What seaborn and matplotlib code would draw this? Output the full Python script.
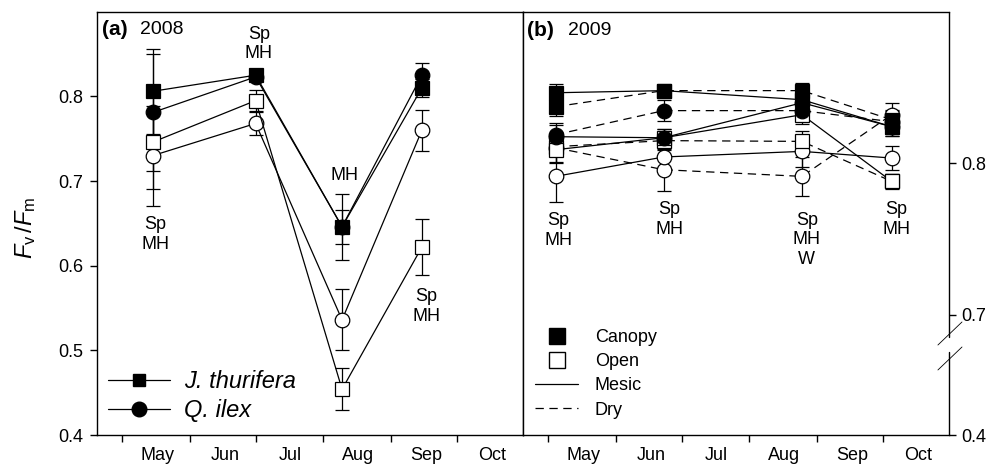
import numpy as np
import matplotlib
matplotlib.use("Agg")
import matplotlib.pyplot as plt
import seaborn as sns
from matplotlib.lines import Line2D
from matplotlib.ticker import FixedLocator, FixedFormatter, NullFormatter

sns.set_theme(style="ticks")
plt.rcParams["font.family"] = ["Liberation Sans", "DejaVu Sans"]
plt.rcParams["mathtext.fontset"] = "custom"
plt.rcParams["mathtext.rm"] = "Liberation Sans"
plt.rcParams["mathtext.it"] = "Liberation Sans:italic"
plt.rcParams["mathtext.bf"] = "Liberation Sans:bold"
plt.rcParams["lines.scale_dashes"] = False
plt.rcParams["axes.edgecolor"] = "black"
plt.rcParams["axes.linewidth"] = 1.0
plt.rcParams["xtick.color"] = "black"
plt.rcParams["ytick.color"] = "black"
plt.rcParams["text.color"] = "black"

# ---------------- data ----------------
# measurement dates (day of year)
days_2008 = [135, 182, 221.5, 258]
days_2009 = [124.4, 173.8, 237, 278]

# month axis
month_starts = [121, 152, 182, 213, 244, 274]
month_labels = ["May", "Jun", "Jul", "Aug", "Sep", "Oct"]

# panel (a) 2008 : Fv/Fm means and errors
jt_canopy_08 = [0.806, 0.825, 0.646, 0.810]
jt_canopy_08_err = [0.050, 0.004, 0.039, 0.011]
qi_canopy_08 = [0.781, 0.823, 0.646, 0.825]
qi_canopy_08_err = [0.069, 0.004, 0.020, 0.014]
jt_open_08 = [0.746, 0.795, 0.454, 0.622]
jt_open_08_err = [0.056, 0.012, 0.025, 0.033]
qi_open_08 = [0.730, 0.768, 0.536, 0.760]
qi_open_08_err = [0.059, 0.014, 0.036, 0.024]

# panel (b) 2009 : species x habitat (canopy/open) x site (mesic/dry)
jt_can_mes_09 = [0.8465, 0.8479, 0.8419, 0.8241]
jt_can_mes_09_err = [0.006, 0.004, 0.006, 0.006]
jt_can_dry_09 = [0.8373, 0.8479, 0.8479, 0.8287]
jt_can_dry_09_err = [0.006, 0.004, 0.005, 0.006]
qi_can_mes_09 = [0.8175, 0.8168, 0.8399, 0.8241]
qi_can_mes_09_err = [0.008, 0.006, 0.006, 0.006]
qi_can_dry_09 = [0.8188, 0.8347, 0.8347, 0.8274]
qi_can_dry_09_err = [0.008, 0.007, 0.006, 0.008]
jt_open_mes_09 = [0.8089, 0.8168, 0.8320, 0.7880]
jt_open_mes_09_err = [0.008, 0.006, 0.006, 0.005]
jt_open_dry_09 = [0.8109, 0.8149, 0.8144, 0.7880]
jt_open_dry_09_err = [0.006, 0.006, 0.007, 0.004]
qi_open_mes_09 = [0.7913, 0.8041, 0.8078, 0.8034]
qi_open_mes_09_err = [0.017, 0.010, 0.010, 0.008]
qi_open_dry_09 = [0.8102, 0.7957, 0.7913, 0.8320]
qi_open_dry_09_err = [0.010, 0.014, 0.013, 0.008]

# significance annotations
annot_08_x = [136.2, 183.5, 222.6, 260]
annot_08_y = [0.637, 0.862, 0.707, 0.552]
annot_08_txt = ["Sp\nMH", "Sp\nMH", "MH", "Sp\nMH"]
annot_09_x = [125.6, 176.4, 239.2, 280.1]
annot_09_y = [0.7554, 0.7627, 0.7495, 0.7627]
annot_09_txt = ["Sp\nMH", "Sp\nMH", "Sp\nMH\nW", "Sp\nMH"]

# ---------------- figure ----------------
W, H = 1003, 468
fig = plt.figure(figsize=(W / 100, H / 100), dpi=100)
ax1 = fig.add_axes([97 / W, 33 / H, 426 / W, 423.3 / H])
ax2 = fig.add_axes([523 / W, 33 / H, 426 / W, 423.3 / H])

# broken y scale for panel (b)
K = 0.2647
def fwd(y):
    y = np.asarray(y, dtype=float)
    return np.where(y >= 0.7, y, 0.7 - (0.7 - y) * K)
def inv(f):
    f = np.asarray(f, dtype=float)
    return np.where(f >= 0.7, f, 0.7 - (0.7 - f) / K)
ax2.set_yscale("function", functions=(fwd, inv))

LW = 0.9
def draw(ax, x, y, err, marker, filled, ls, ms=9.5):
    ax.errorbar(x, y, yerr=err, fmt="none", ecolor="black", elinewidth=LW,
                capsize=5, capthick=LW, zorder=2)
    sns.lineplot(x=x, y=y, ax=ax, color="black", lw=LW, linestyle=ls,
                 marker=marker, markersize=ms,
                 markerfacecolor="black" if filled else "white",
                 markeredgecolor="black", markeredgewidth=LW,
                 zorder=3, legend=False, errorbar=None)

SOLID = "-"
DASH = (0, (6, 4))

# panel a
draw(ax1, days_2008, qi_open_08, qi_open_08_err, "o", False, SOLID, 10.5)
draw(ax1, days_2008, jt_open_08, jt_open_08_err, "s", False, SOLID)
draw(ax1, days_2008, qi_canopy_08, qi_canopy_08_err, "o", True, SOLID, 10.5)
draw(ax1, days_2008, jt_canopy_08, jt_canopy_08_err, "s", True, SOLID)

# panel b
draw(ax2, days_2009, qi_open_dry_09, qi_open_dry_09_err, "o", False, DASH, 10.5)
draw(ax2, days_2009, qi_open_mes_09, qi_open_mes_09_err, "o", False, SOLID, 10.5)
draw(ax2, days_2009, jt_open_dry_09, jt_open_dry_09_err, "s", False, DASH)
draw(ax2, days_2009, jt_open_mes_09, jt_open_mes_09_err, "s", False, SOLID)
draw(ax2, days_2009, qi_can_dry_09, qi_can_dry_09_err, "o", True, DASH, 10.5)
draw(ax2, days_2009, qi_can_mes_09, qi_can_mes_09_err, "o", True, SOLID, 10.5)
draw(ax2, days_2009, jt_can_dry_09, jt_can_dry_09_err, "s", True, DASH)
draw(ax2, days_2009, jt_can_mes_09, jt_can_mes_09_err, "s", True, SOLID)

for ax in (ax1, ax2):
    ax.set_xlim(109.5, 304.2)
    ax.set_ylim(0.4, 0.9)
    ax.set_xlabel("")
    ax.set_ylabel("")
    ax.xaxis.set_major_locator(FixedLocator(month_starts))
    ax.xaxis.set_major_formatter(NullFormatter())
    ax.xaxis.set_minor_locator(FixedLocator([d + 16 for d in month_starts]))
    ax.xaxis.set_minor_formatter(FixedFormatter(month_labels))
    ax.tick_params(axis="x", which="major", direction="out", length=5, width=1)
    ax.tick_params(axis="x", which="minor", length=0, pad=9, labelsize=13)
    for s in ax.spines.values():
        s.set_visible(True)
        s.set_linewidth(1.0)
        s.set_color("black")

# y axis panel a
ax1.yaxis.set_major_locator(FixedLocator([0.4, 0.5, 0.6, 0.7, 0.8]))
ax1.yaxis.set_major_formatter(FixedFormatter(["0.4", "0.5", "0.6", "0.7", "0.8"]))
ax1.yaxis.set_minor_locator(FixedLocator([]))
ax1.tick_params(axis="y", direction="out", length=5, width=1, pad=5, labelsize=13,
                left=True, right=False)

# y axis panel b (right side, broken)
ax2.yaxis.tick_right()
ax2.yaxis.set_major_locator(FixedLocator([0.4, 0.7, 0.8]))
ax2.yaxis.set_major_formatter(FixedFormatter(["0.4", "0.7", "0.8"]))
ax2.yaxis.set_minor_locator(FixedLocator([]))
ax2.tick_params(axis="y", direction="out", length=5, width=1, pad=4, labelsize=13,
                left=False, right=True)
ax2.spines["right"].set_visible(False)
ax2.plot([1, 1], [0, 0.196], transform=ax2.transAxes, color="black", lw=1.0, clip_on=False)
ax2.plot([1, 1], [0.2315, 1], transform=ax2.transAxes, color="black", lw=1.0, clip_on=False)
ax2.plot([0.974, 1.0305], [0.2126, 0.267], transform=ax2.transAxes, color="black", lw=0.6, clip_on=False)
ax2.plot([0.974, 1.0305], [0.1536, 0.2079], transform=ax2.transAxes, color="black", lw=0.6, clip_on=False)

# annotations
for x, y, t in zip(annot_08_x, annot_08_y, annot_08_txt):
    ax1.text(x, y, t, ha="center", va="center", fontsize=13, linespacing=1.2)
for x, y, t in zip(annot_09_x, annot_09_y, annot_09_txt):
    ax2.text(x, y, t, ha="center", va="center", fontsize=13, linespacing=1.2)

# panel titles
ax1.text(0.011, 0.957, "(a)", transform=ax1.transAxes, fontsize=15, fontweight="bold",
         ha="left", va="center")
ax1.text(0.101, 0.957, "2008", transform=ax1.transAxes, fontsize=14, ha="left", va="center")
ax2.text(0.010, 0.955, "(b)", transform=ax2.transAxes, fontsize=15, fontweight="bold",
         ha="left", va="center")
ax2.text(0.106, 0.955, "2009", transform=ax2.transAxes, fontsize=14, ha="left", va="center")

# y label
fig.text(26 / W, 1 - 228 / H, r"$F_{\mathrm{v}}\,/F_{\mathrm{m}}$", rotation=90,
         fontsize=17, ha="center", va="center")

# legend panel a
h_a = [Line2D([], [], color="black", lw=LW, marker="s", markersize=9,
              markerfacecolor="black", markeredgecolor="black"),
       Line2D([], [], color="black", lw=LW, marker="o", markersize=10.5,
              markerfacecolor="black", markeredgecolor="black")]
leg_a = ax1.legend(h_a, ["J. thurifera", "Q. ilex"], loc="lower left",
                   bbox_to_anchor=(0.015, 0.02), frameon=False,
                   prop={"style": "italic", "size": 17}, handlelength=2.6,
                   handletextpad=0.6, labelspacing=0.25, borderpad=0.2,
                   borderaxespad=0)

# legend panel b
h_b = [Line2D([], [], linestyle="none", marker="s", markersize=11,
              markerfacecolor="black", markeredgecolor="black"),
       Line2D([], [], linestyle="none", marker="s", markersize=11,
              markerfacecolor="white", markeredgecolor="black", markeredgewidth=1),
       Line2D([], [], color="black", lw=LW, linestyle=SOLID),
       Line2D([], [], color="black", lw=LW, linestyle=DASH)]
ax2.legend(h_b, ["Canopy", "Open", "Mesic", "Dry"], loc="lower left",
           bbox_to_anchor=(0.02, 0.03), frameon=False, fontsize=13,
           handlelength=2.4, handletextpad=0.9, labelspacing=0.4, borderpad=0.2,
           borderaxespad=0)

fig.savefig("out.png", dpi=100)
